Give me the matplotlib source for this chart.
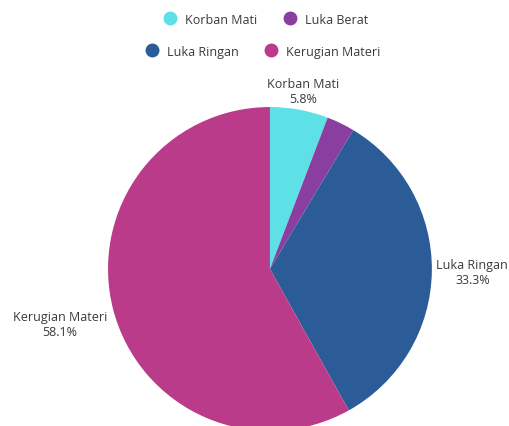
import numpy as np
import matplotlib
matplotlib.use("Agg")
import matplotlib.pyplot as plt
from matplotlib.lines import Line2D

plt.rcParams["font.family"] = ["Open Sans", "DejaVu Sans"]

# data
labels = ["Korban Mati", "Luka Berat", "Luka Ringan", "Kerugian Materi"]
values = [5.8, 2.8, 33.3, 58.1]
colors = ["#5de0e6", "#8a3fa0", "#2b5c97", "#b93b8a"]
show_label = [True, False, True, True]
label_dist = [1.12, 1.2, 1.25, 1.34]

TEXT = "#3a3a3a"

fig = plt.figure(figsize=(5.10, 4.27), dpi=100)
ax = fig.add_axes([0.2118, -0.0117, 0.635, 0.759])

wedges, _ = ax.pie(values, colors=colors, startangle=90, counterclock=False,
                   radius=1.0, wedgeprops={"linewidth": 0})
ax.set_xlim(-1, 1)
ax.set_ylim(-1, 1)
ax.set_aspect("equal")
ax.axis("off")

# 标签
for w, lab, v, show, d in zip(wedges, labels, values, show_label, label_dist):
    if not show:
        continue
    ang = np.deg2rad((w.theta1 + w.theta2) / 2)
    ax.text(d * np.cos(ang), d * np.sin(ang), f"{lab}\n{v:.1f}%",
            ha="center", va="center", fontsize=9, color=TEXT,
            linespacing=1.2, clip_on=False)

# legend
def handle(c):
    return Line2D([], [], marker="o", linestyle="none", markersize=9,
                  markerfacecolor=c, markeredgecolor=c)

leg1 = fig.legend([handle(c) for c in colors[:2]], labels[:2], ncol=2,
                  loc="center", bbox_to_anchor=(0.515, 0.953), frameon=False,
                  fontsize=9, handletextpad=0.2, columnspacing=1.6,
                  labelcolor=TEXT)
leg2 = fig.legend([handle(c) for c in colors[2:]], labels[2:], ncol=2,
                  loc="center", bbox_to_anchor=(0.51, 0.878), frameon=False,
                  fontsize=9, handletextpad=0.2, columnspacing=1.6,
                  labelcolor=TEXT)

fig.savefig("out.png", dpi=100)
